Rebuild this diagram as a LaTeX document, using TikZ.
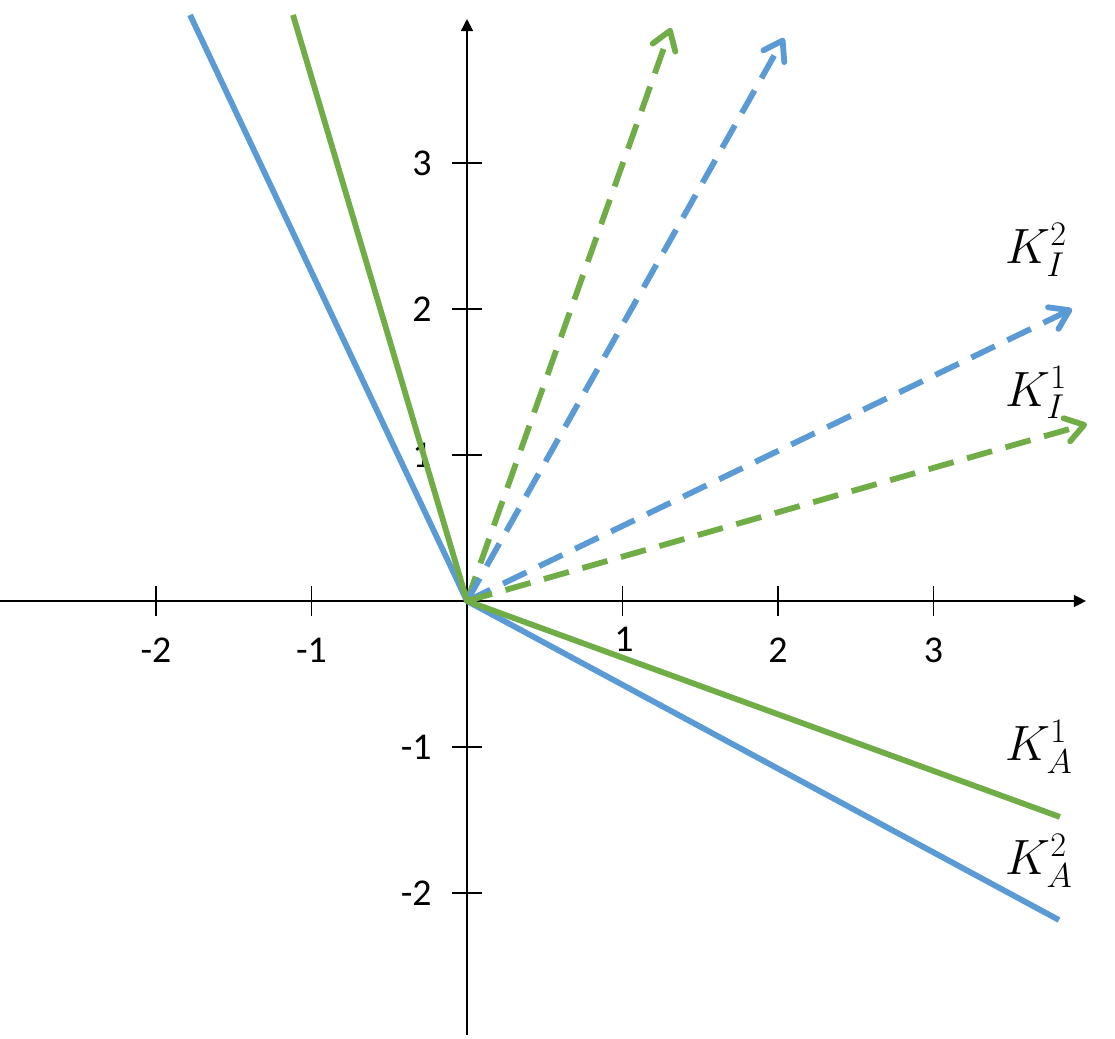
\documentclass[tikz,border=0pt]{standalone}
\usepackage{fontspec}
\setmainfont{Carlito}
\usetikzlibrary{arrows.meta}
\DeclareMathSizes{23}{23}{16.5}{12}

\definecolor{kblue}{HTML}{5B9BD5}
\definecolor{kgreen}{HTML}{70AD47}

\begin{document}
\begin{tikzpicture}[x=77.75bp, y=73bp,
	axis/.style={line width=0.75bp, -{Triangle[length=6bp,width=6bp]}},
	tickmark/.style={line width=0.75bp},
	num/.style={font=\fontsize{19}{23}\selectfont, inner sep=0pt},
	klabel/.style={font=\fontsize{23}{28}\selectfont, anchor=west, inner sep=0pt},
	cone/.style={line width=2.9bp, line join=round},
	ray/.style={line width=2.9bp, dash pattern=on 13bp off 7bp, -{Straight Barb[length=9bp,width=12bp,round]}}]
	\useasboundingbox (-3.0032,-3.0) rectangle (4.1672,4.1164);

	% Axes and ticks
	\coordinate (O)  at (0,0);
	\coordinate (xl) at (-3.01,0);
	\coordinate (xr) at (3.98,0);
	\coordinate (yb) at (0,-2.97);
	\coordinate (yt) at (0,3.986);
	\draw [axis] (xl) -- (xr);
	\draw [axis] (yb) -- (yt);
	\foreach \i in {-2,-1,1,2,3} {
		\draw [tickmark] (\i,0) +(0,-7.5bp) -- +(0,7.5bp);
		\draw [tickmark] (0,\i) +(-7.5bp,0) -- +(7.5bp,0);
		\node [num, anchor=east] (y\i) at (-0.225,\i) {\i};
	}
	\foreach \i in {-2,-1,2,3}
		\node [num] (x\i) at (\i,-0.336) {\i};
	\node [num] (x1) at (1.01,-0.26) {1};

	% End points {steep, shallow, top, bottom}
	\coordinate (gS) at (1.312,3.925);
	\coordinate (bS) at (2.039,3.856);
	\coordinate (bF) at (3.891,2.0);
	\coordinate (gF) at (3.987,1.212);
	\coordinate (bT) at (-1.781,4.014);
	\coordinate (gT) at (-1.119,4.014);
	\coordinate (bB) at (3.807,-2.185);
	\coordinate (gB) at (3.813,-1.479);

	% Paths
	\draw [ray, kgreen] (O) -- (gS);
	\draw [ray, kblue]  (O) -- (bS);
	\draw [ray, kblue]  (O) -- (bF);
	\draw [ray, kgreen] (O) -- (gF);
	\draw [cone, kblue]  (bT) -- (O) -- (bB);
	\draw [cone, kgreen] (gT) -- (O) -- (gB);

	% Labels
	\node [klabel] (KI2) at (3.46,2.404)  {$K_I^2$};
	\node [klabel] (KI1) at (3.46,1.43)   {$K_I^1$};
	\node [klabel] (KA1) at (3.46,-1.0)   {$K_A^1$};
	\node [klabel] (KA2) at (3.46,-1.78)  {$K_A^2$};
\end{tikzpicture}
\end{document}
